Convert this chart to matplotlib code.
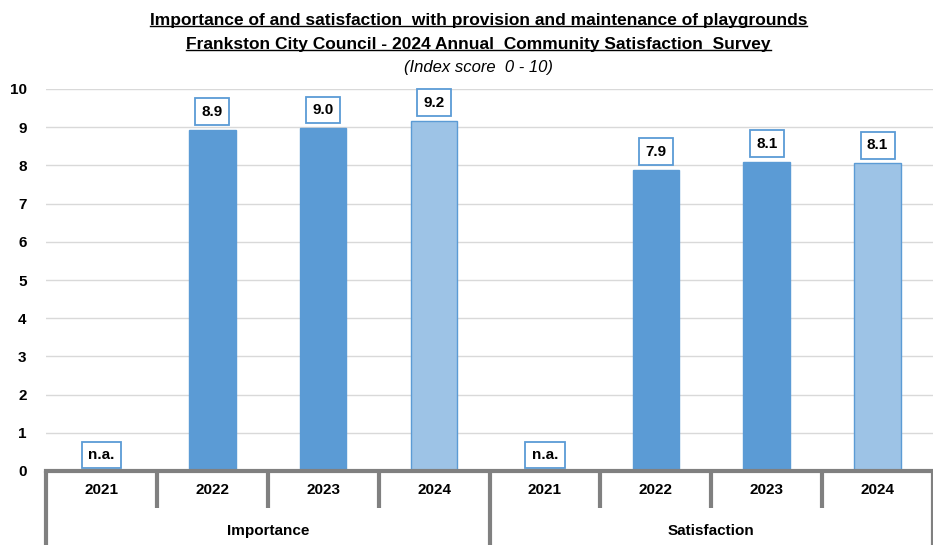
import numpy as np
import matplotlib.pyplot as plt
from matplotlib.transforms import blended_transform_factory

plt.rcParams['font.family'] = ['Liberation Sans', 'DejaVu Sans']

groups = ['Importance', 'Satisfaction']
years = ['2021', '2022', '2023', '2024']
importance = [np.nan, 8.93, 8.97, 9.16]
satisfaction = [np.nan, 7.88, 8.09, 8.05]
importance_labels = ['n.a.', '8.9', '9.0', '9.2']
satisfaction_labels = ['n.a.', '7.9', '8.1', '8.1']

blue = '#5B9BD5'
light = '#9DC3E6'
bar_colors = ['none', blue, blue, light]

fig = plt.figure(figsize=(9.33, 5.45), dpi=100)
ax = fig.add_axes([46 / 933, 74 / 545, 887 / 933, 382 / 545])

values = importance + satisfaction
labels = importance_labels + satisfaction_labels
x = np.arange(len(values))
for i, v in enumerate(values):
    if np.isnan(v):
        continue
    ax.bar(x[i], v, width=0.42, color=bar_colors[i % 4], edgecolor=blue, linewidth=1, zorder=3)

# value boxes above the bars
for i, v in enumerate(values):
    ypos = 0.42 if np.isnan(v) else v + 0.48
    ax.text(x[i], ypos, labels[i], ha='center', va='center', fontsize=11, fontweight='bold',
            zorder=4, bbox=dict(boxstyle='square,pad=0.42', fc='white', ec=blue, lw=1.3))

ax.set_xlim(-0.5, 7.5)
ax.set_ylim(0, 10)
ax.set_yticks(range(0, 11))
ax.set_yticklabels([str(t) for t in range(0, 11)], fontsize=11, fontweight='bold')
ax.tick_params(axis='y', length=0, pad=14)
ax.tick_params(axis='x', length=0, labelbottom=False)
ax.grid(axis='y', color='#D9D9D9', linewidth=1, zorder=0)
for s in ['top', 'right', 'left']:
    ax.spines[s].set_visible(False)
ax.spines['bottom'].set_color('#808080')
ax.spines['bottom'].set_linewidth(3)
ax.spines['bottom'].set_zorder(5)

# two-level category axis
trans = blended_transform_factory(ax.transData, ax.transAxes)
short = -37 / 382
long_ = -74 / 382
for b in np.arange(-0.5, 8.0, 1.0):
    bottom = long_ if b in (-0.5, 3.5, 7.5) else short
    ax.plot([b, b], [0, bottom], transform=trans, color='#808080', lw=3, clip_on=False,
            solid_capstyle='butt')

for i in x:
    ax.text(i, -19 / 382, years[i % 4], transform=trans, ha='center', va='center',
            fontsize=11, fontweight='bold')
for g, name in enumerate(groups):
    ax.text(1.5 + 4 * g, -60 / 382, name, transform=trans, ha='center', va='center',
            fontsize=11, fontweight='bold')

title_lines = ['Importance of and satisfaction  with provision and maintenance of playgrounds',
               'Frankston City Council - 2024 Annual  Community Satisfaction  Survey']
ty = [1 - 20 / 545, 1 - 44 / 545]
fig.canvas.draw()
renderer = fig.canvas.get_renderer()
for line, yy in zip(title_lines, ty):
    t = fig.text(0.5 * (46 + 933) / 933 - 0.012, yy, line, ha='center', va='center',
                 fontsize=12.5, fontweight='bold')
    bb = t.get_window_extent(renderer).transformed(fig.transFigure.inverted())
    fig.add_artist(plt.Line2D([bb.x0, bb.x1], [bb.y0 + 0.002, bb.y0 + 0.002],
                              transform=fig.transFigure, color='black', lw=1))
fig.text(0.5 * (46 + 933) / 933 - 0.012, 1 - 67 / 545, '(Index score  0 - 10)', ha='center',
         va='center', fontsize=12, style='italic')

fig.savefig('out.png', dpi=100)
